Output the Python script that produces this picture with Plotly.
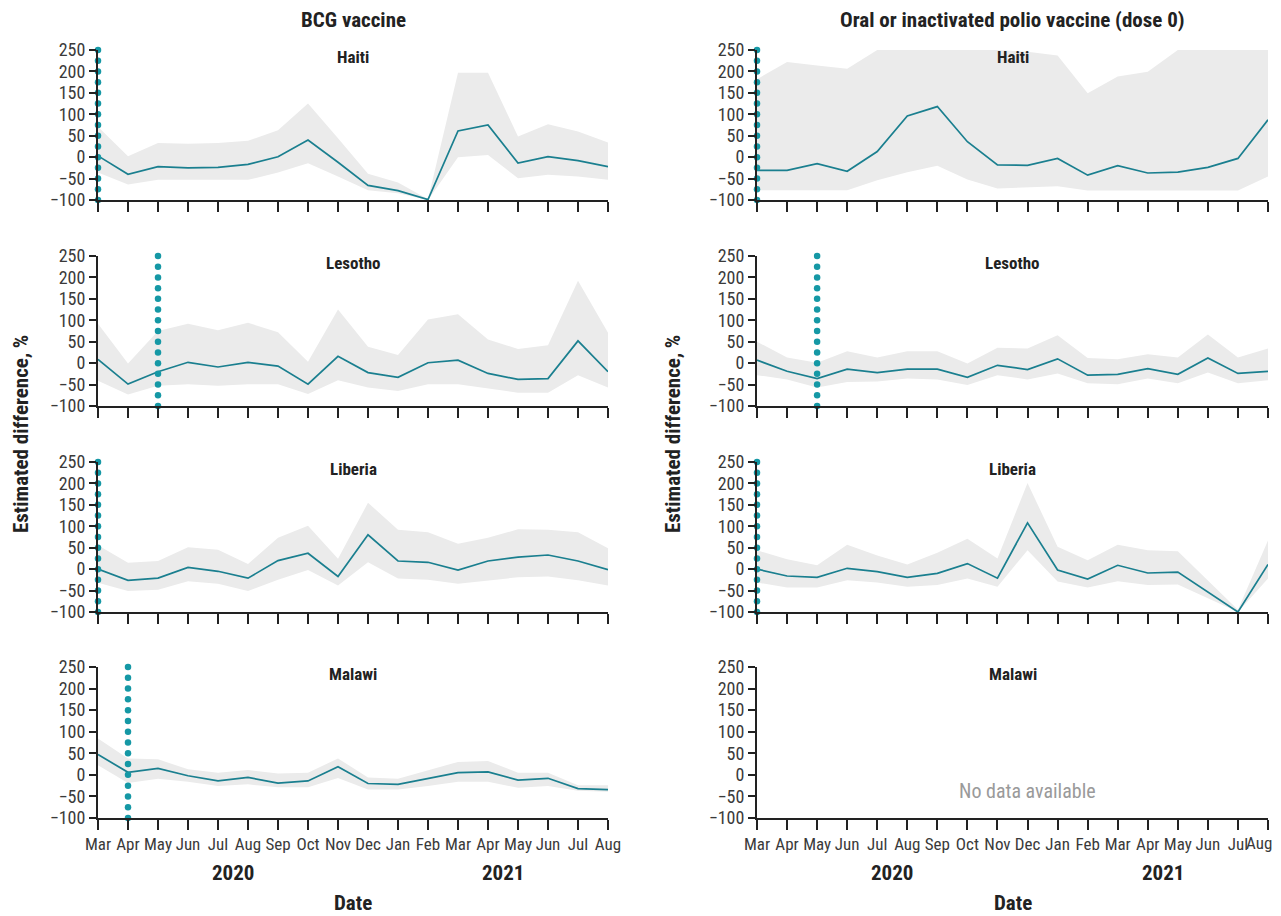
import plotly.graph_objects as go

# The page body adds an 8 px margin, so the figure is drawn 8 px in from the window corner
# and anything past x = 1273 in the window is clipped.
OFF = 8
W, H = 1281 - OFF, 916 - OFF
VIS_RIGHT = 1273

periods = ["2020-03", "2020-04", "2020-05", "2020-06", "2020-07", "2020-08", "2020-09",
           "2020-10", "2020-11", "2020-12", "2021-01", "2021-02", "2021-03", "2021-04",
           "2021-05", "2021-06", "2021-07", "2021-08"]
month_labels = ["Mar", "Apr", "May", "Jun", "Jul", "Aug", "Sep", "Oct", "Nov", "Dec",
                "Jan", "Feb", "Mar", "Apr", "May", "Jun", "Jul", "Aug"]
years = ["2020", "2021"]
countries = ["Haiti", "Lesotho", "Liberia", "Malawi"]
vaccines = ["BCG vaccine", "Oral or inactivated polio vaccine (dose 0)"]
y_ticks = [-100, -50, 0, 50, 100, 150, 200, 250]

# BCG vaccine
bcg_haiti_est = [3, -40, -22, -25, -24, -17, 1, 40, -12, -66, -78, -99, 61, 75, -14, 1, -8, -22]
bcg_haiti_hi = [71, 2, 33, 31, 33, 38, 63, 125, 44, -39, -59, -98, 197, 197, 48, 77, 60, 34]
bcg_haiti_lo = [-36, -64, -53, -53, -53, -53, -36, -14, -45, -77, -84, -100, 0, 5, -49, -41, -45, -53]

bcg_lesotho_est = [9, -49, -20, 2, -9, 2, -7, -49, 16, -22, -33, 1, 7, -24, -38, -36, 52, -20]
bcg_lesotho_hi = [92, -1, 75, 92, 77, 94, 72, 3, 125, 38, 19, 102, 114, 55, 33, 42, 192, 71]
bcg_lesotho_lo = [-41, -73, -53, -49, -53, -49, -49, -72, -40, -57, -65, -49, -49, -59, -69, -69, -28, -57]

bcg_liberia_est = [0, -26, -21, 4, -5, -21, 20, 37, -17, 80, 19, 16, -2, 19, 28, 33, 19, -1]
bcg_liberia_hi = [56, 15, 19, 51, 45, 12, 73, 101, 24, 155, 92, 86, 59, 73, 93, 92, 86, 49]
bcg_liberia_lo = [-32, -51, -48, -28, -34, -51, -25, -2, -38, 16, -22, -25, -34, -26, -19, -17, -26, -38]

bcg_malawi_est = [47, 6, 15, -2, -14, -6, -19, -14, 19, -20, -22, -8, 5, 7, -12, -8, -32, -34]
bcg_malawi_hi = [84, 38, 36, 13, 5, 11, 3, 5, 38, -6, -9, 11, 30, 32, 5, 5, -24, -24]
bcg_malawi_lo = [22, -19, -9, -16, -26, -22, -29, -29, -7, -34, -34, -26, -16, -16, -30, -26, -37, -39]

# Oral or inactivated polio vaccine (dose 0)
polio_haiti_est = [-31, -31, -15, -33, 13, 96, 118, 36, -18, -19, -3, -42, -20, -37, -35, -24, -3, 87]
polio_haiti_hi = [182, 222, 214, 206, 250, 250, 250, 250, 250, 246, 237, 149, 188, 199, 250, 250, 250, 250]
polio_haiti_lo = [-77, -77, -77, -77, -54, -35, -20, -52, -73, -70, -68, -78, -78, -78, -78, -78, -78, -45]

polio_lesotho_est = [7, -19, -36, -14, -22, -14, -14, -33, -5, -15, 10, -28, -26, -13, -26, 12, -24, -19]
polio_lesotho_hi = [50, 13, 1, 28, 13, 28, 28, -1, 36, 34, 65, 12, 9, 21, 13, 67, 13, 34]
polio_lesotho_lo = [-28, -38, -57, -44, -43, -36, -38, -51, -28, -38, -24, -47, -49, -36, -47, -22, -47, -40]

polio_liberia_est = [0, -16, -19, 2, -6, -19, -10, 13, -21, 108, -2, -23, 9, -9, -7, -53, -100, 11]
polio_liberia_hi = [44, 23, 9, 57, 32, 11, 38, 71, 25, 201, 52, 21, 57, 44, 42, -27, -95, 67]
polio_liberia_lo = [-31, -43, -43, -26, -31, -41, -37, -22, -41, 44, -29, -43, -28, -37, -36, -68, -100, -22]

# Intervention start month marked by the dotted line (None = no line)
bcg_start = ["2020-03", "2020-05", "2020-03", "2020-04"]
polio_start = ["2020-03", "2020-05", "2020-03", None]

panels = {
    (0, 0): (bcg_haiti_est, bcg_haiti_lo, bcg_haiti_hi),
    (1, 0): (bcg_lesotho_est, bcg_lesotho_lo, bcg_lesotho_hi),
    (2, 0): (bcg_liberia_est, bcg_liberia_lo, bcg_liberia_hi),
    (3, 0): (bcg_malawi_est, bcg_malawi_lo, bcg_malawi_hi),
    (0, 1): (polio_haiti_est, polio_haiti_lo, polio_haiti_hi),
    (1, 1): (polio_lesotho_est, polio_lesotho_lo, polio_lesotho_hi),
    (2, 1): (polio_liberia_est, polio_liberia_lo, polio_liberia_hi),
    (3, 1): None,
}
starts = [bcg_start, polio_start]

FONT = "Roboto Condensed, DejaVu Sans Condensed, sans-serif"
LINE_C = "#1a7f8f"
DOT_C = "#1598a5"
BAND_C = "#ebebeb"
TICK_C = "#3a3a3a"

# pixel positions in the browser window
col_x = [(98, 608), (757, 1268)]
row_y = [(50, 200), (256, 406), (462, 612), (667, 818)]


def px(x):
    return (x - OFF) / W


def py(y):
    return 1 - (y - OFF) / H


fig = go.Figure()
layout_axes = {}
annotations = []

dot_y = list(range(-100, 251, 25))

for r in range(4):
    for c in range(2):
        idx = r * 2 + c + 1
        xa = "x" if idx == 1 else f"x{idx}"
        ya = "y" if idx == 1 else f"y{idx}"
        xk = "xaxis" if idx == 1 else f"xaxis{idx}"
        yk = "yaxis" if idx == 1 else f"yaxis{idx}"
        x0, x1 = col_x[c]
        yt, yb = row_y[r]
        # the last month label of the right column would be clipped by the window edge,
        # so it is drawn as a right-aligned annotation instead
        labels = month_labels if c == 0 else month_labels[:-1] + [""]
        layout_axes[xk] = dict(
            domain=[px(x0), px(x1)], anchor=ya, type="category",
            categoryorder="array", categoryarray=periods,
            range=[0, len(periods) - 1], automargin=False,
            tickmode="array", tickvals=periods, ticktext=labels, tickangle=0,
            showticklabels=(r == 3), ticks="outside", ticklen=10, tickwidth=1.5,
            tickcolor="#222", showline=True, linecolor="#222", linewidth=2,
            showgrid=False, zeroline=False,
            tickfont=dict(family=FONT, size=17, color=TICK_C),
        )
        layout_axes[yk] = dict(
            domain=[py(yb), py(yt)], anchor=xa, automargin=False,
            range=[-100, 250], tickvals=y_ticks,
            ticks="outside", ticklen=7, tickwidth=1.5, tickcolor="#222",
            showline=True, linecolor="#222", linewidth=2,
            showgrid=False, zeroline=False,
            tickfont=dict(family=FONT, size=18, color=TICK_C),
        )
        data = panels[(r, c)]
        if data is not None:
            est, lo, hi = data
            fig.add_trace(go.Scatter(x=periods, y=lo, mode="lines", line=dict(width=0, color=BAND_C),
                                     xaxis=xa, yaxis=ya, showlegend=False, hoverinfo="skip"))
            fig.add_trace(go.Scatter(x=periods, y=hi, mode="lines", line=dict(width=0, color=BAND_C),
                                     fill="tonexty", fillcolor=BAND_C,
                                     xaxis=xa, yaxis=ya, showlegend=False, hoverinfo="skip"))
            fig.add_trace(go.Scatter(x=periods, y=est, mode="lines", line=dict(width=1.7, color=LINE_C),
                                     xaxis=xa, yaxis=ya, showlegend=False))
        else:
            annotations.append(dict(text="No data available", x=9, y=-38, xref=xa, yref=ya,
                                    showarrow=False,
                                    font=dict(family=FONT, size=20, color="#9a9a9a")))
        s = starts[c][r]
        if s is not None:
            fig.add_trace(go.Scatter(x=[s] * len(dot_y), y=dot_y, mode="markers",
                                     marker=dict(size=6.5, color=DOT_C),
                                     cliponaxis=False, xaxis=xa, yaxis=ya, showlegend=False))
        # country title
        annotations.append(dict(text=f"<b>{countries[r]}</b>", x=0.5, y=0.953,
                                xref=f"{xa} domain", yref=f"{ya} domain",
                                showarrow=False, xanchor="center", yanchor="middle",
                                font=dict(family=FONT, size=17, color="#222")))

# last month label of the bottom-right axis
annotations.append(dict(text=month_labels[-1], x=px(VIS_RIGHT), y=py(843), xref="paper", yref="paper",
                        showarrow=False, xanchor="right", yanchor="middle", xshift=1,
                        font=dict(family=FONT, size=17, color=TICK_C)))

for c in range(2):
    x0, x1 = col_x[c]
    cx = px((x0 + x1) / 2)
    annotations.append(dict(text=f"<b>{vaccines[c]}</b>", x=cx, y=py(20), xref="paper", yref="paper",
                            showarrow=False, xanchor="center", yanchor="middle",
                            font=dict(family=FONT, size=21, color="#222")))
    bx = "x7" if c == 0 else "x8"
    for yi, yr in enumerate(years):
        xpos = 4.5 if yi == 0 else 13.5
        annotations.append(dict(text=f"<b>{yr}</b>", x=xpos, y=py(873), xref=bx, yref="paper",
                                showarrow=False, xanchor="center", yanchor="middle",
                                font=dict(family=FONT, size=21, color="#222")))
    annotations.append(dict(text="<b>Date</b>", x=cx, y=py(903), xref="paper", yref="paper",
                            showarrow=False, xanchor="center", yanchor="middle",
                            font=dict(family=FONT, size=21, color="#222")))
    ytx = 21 if c == 0 else 673
    annotations.append(dict(text="<b>Estimated difference, %</b>", x=px(ytx), y=py(434),
                            xref="paper", yref="paper", textangle=-90,
                            showarrow=False, xanchor="center", yanchor="middle",
                            font=dict(family=FONT, size=21, color="#222")))

fig.update_layout(
    width=W, height=H, margin=dict(l=0, r=0, t=0, b=0),
    paper_bgcolor="white", plot_bgcolor="white",
    annotations=annotations, showlegend=False,
    **layout_axes,
)

fig.write_html("out.html")
